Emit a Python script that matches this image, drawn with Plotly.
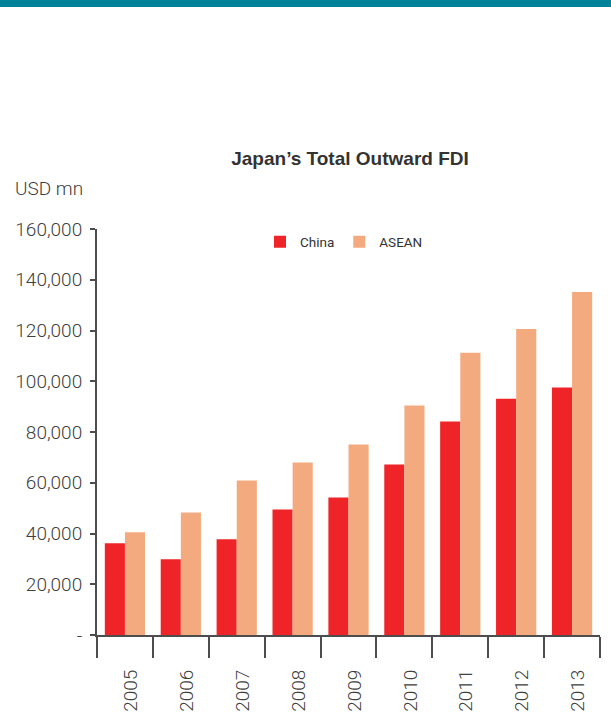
import plotly.graph_objects as go

years = ["2005", "2006", "2007", "2008", "2009", "2010", "2011", "2012", "2013"]
china = [36200, 29900, 37700, 49500, 54200, 67200, 84100, 93100, 97500]
asean = [40500, 48300, 60900, 68000, 75100, 90400, 111200, 120600, 135200]
y_ticks = [0, 20000, 40000, 60000, 80000, 100000, 120000, 140000, 160000]
y_labels = ["-", "20,000", "40,000", "60,000", "80,000", "100,000", "120,000", "140,000", "160,000"]

W, H = 611, 720
L, R, T, B = 97, 11, 229, 85
pw, ph = W - L - R, H - T - B

def px_x(x):
    return (x - L) / pw

def px_y(y):
    return (H - B - y) / ph

fig = go.Figure()
fig.add_trace(go.Bar(x=years, y=china, name="China", marker_color="#ee2429", marker_line_width=0))
fig.add_trace(go.Bar(x=years, y=asean, name="ASEAN", marker_color="#f4aa7f", marker_line_width=0))

fig.update_layout(
    width=W, height=H,
    margin=dict(l=L, r=R, t=T, b=B),
    paper_bgcolor="white", plot_bgcolor="white",
    barmode="group", bargap=0.28, bargroupgap=0,
    font=dict(family="Roboto", color="#404040"),
    title=dict(text="<b>Japan’s Total Outward FDI</b>", x=350 / W, xanchor="center",
               y=1 - 158 / H, yanchor="middle", yref="container",
               font=dict(family="Liberation Sans", size=19, color="#333333")),
    legend=dict(orientation="h", x=px_x(260), xanchor="left", y=px_y(242), yanchor="middle",
                font=dict(family="Roboto", size=13.5, color="#333333"),
                itemwidth=30, bgcolor="rgba(0,0,0,0)"),
    showlegend=True,
)

fig.update_xaxes(
    type="category", showline=True, linecolor="#4d4d4d", linewidth=2,
    ticks="outside", tickson="boundaries", ticklen=21, tickwidth=2, tickcolor="#4d4d4d",
    tickangle=-90, tickfont=dict(family="Roboto", size=19, color="#404040", weight=300),
    ticklabelstandoff=25, ticklabelshift=6, showgrid=False, zeroline=False, automargin=False,
)
fig.update_yaxes(
    range=[0, 160000], tickvals=y_ticks, ticktext=y_labels,
    showline=True, linecolor="#4d4d4d", linewidth=2,
    ticks="outside", ticklen=5, tickwidth=2, tickcolor="#4d4d4d",
    tickfont=dict(family="Roboto", size=19, color="#404040", weight=300),
    ticklabelstandoff=4, showgrid=False, zeroline=False, automargin=False,
)

fig.add_annotation(text="USD mn", xref="paper", yref="paper", x=px_x(13), y=px_y(188),
                   xanchor="left", yanchor="middle", showarrow=False,
                   font=dict(family="Roboto", size=19, color="#404040", weight=300))

fig.add_shape(type="rect", xref="paper", yref="paper",
              x0=px_x(0), x1=px_x(W), y0=px_y(7), y1=px_y(-5),
              fillcolor="#00829a", line_width=0, layer="above")

fig.write_html("out.html")
